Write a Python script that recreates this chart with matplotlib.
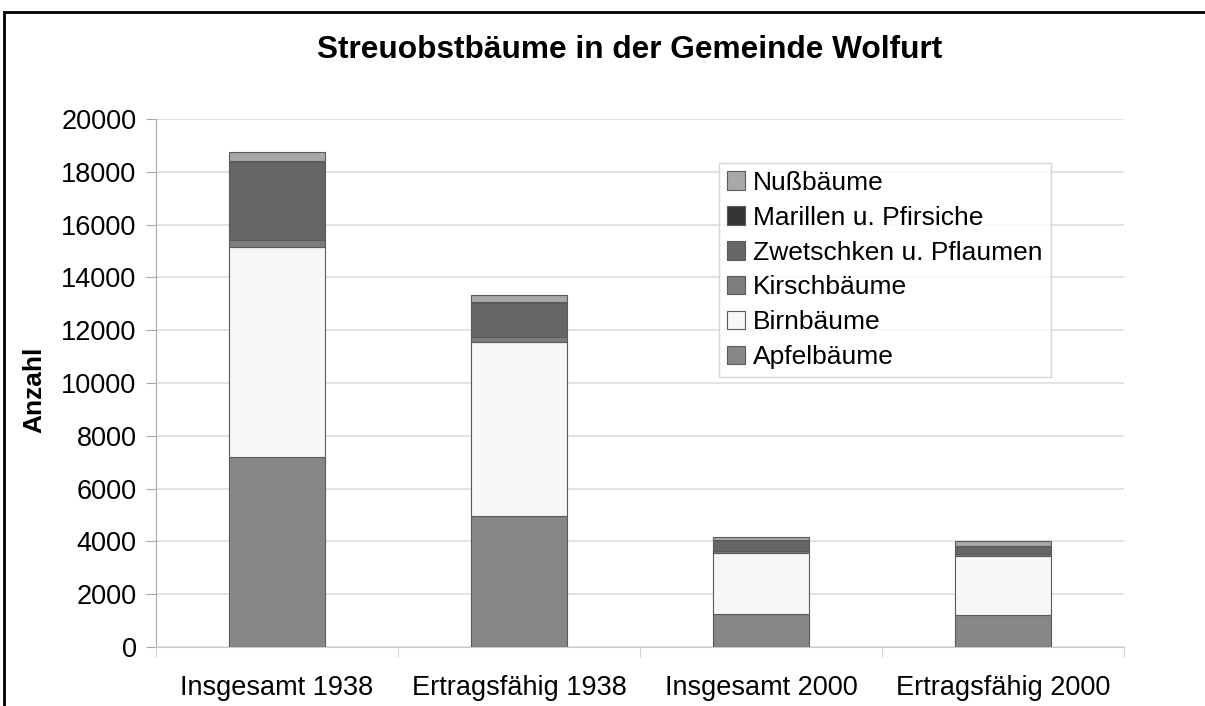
import numpy as np
import matplotlib.pyplot as plt
from matplotlib.patches import Rectangle

plt.rcParams['font.family'] = ['Liberation Sans', 'DejaVu Sans']

## Kategorien und Werte
categories = ['Insgesamt 1938', 'Ertragsfähig 1938', 'Insgesamt 2000', 'Ertragsfähig 2000']
apfel = [7200, 4950, 1250, 1200]
birn = [7950, 6600, 2310, 2250]
kirsch = [270, 200, 80, 70]
zwetschken = [2950, 1290, 400, 310]
marillen = [30, 20, 10, 10]
nuss = [340, 260, 120, 180]

series = [
    ('Apfelbäume', apfel, '#878787'),
    ('Birnbäume', birn, '#f7f7f7'),
    ('Kirschbäume', kirsch, '#7d7d7d'),
    ('Zwetschken u. Pflaumen', zwetschken, '#666666'),
    ('Marillen u. Pfirsiche', marillen, '#333333'),
    ('Nußbäume', nuss, '#a8a8a8'),
]

fig = plt.figure(figsize=(12.05, 7.06), dpi=100)
ax = fig.add_axes([156/1205, 1-647/706, 968/1205, 528/706])

x = np.arange(len(categories))
bottom = np.zeros(len(categories))
for name, vals, col in series:
    ax.bar(x, vals, bottom=bottom, width=0.4, color=col, edgecolor='#5a5a5a',
           linewidth=0.8, label=name, zorder=3)
    bottom += np.array(vals)

ax.set_xlim(-0.5, len(categories) - 0.5)
ax.set_ylim(0, 20000)
ax.set_yticks(np.arange(0, 20001, 2000))
ax.set_yticklabels([str(v) for v in range(0, 20001, 2000)], fontsize=19.5)
ax.set_xticks(x)
ax.set_xticklabels(categories, fontsize=19.5)
ax.tick_params(axis='x', length=0, pad=20)
ax.tick_params(axis='y', length=7, color='#aaaaaa', pad=7)
ax.set_xticks(np.arange(-0.5, len(categories) + 0.5, 1), minor=True)
ax.tick_params(axis='x', which='minor', length=7, color='#cccccc')
ax.grid(axis='y', color='#dedede', linewidth=1.2, zorder=0)
for s in ['top', 'right']:
    ax.spines[s].set_visible(False)
ax.spines['left'].set_color('#aaaaaa')
ax.spines['bottom'].set_color('#cccccc')

ax.set_ylabel('Anzahl', fontsize=19, fontweight='bold')
ax.yaxis.set_label_coords(46/1205, 1-390/706, transform=fig.transFigure)
fig.text(630/1205, 1-50/706, 'Streuobstbäume in der Gemeinde Wolfurt',
         ha='center', va='center', fontsize=22.8, fontweight='bold')

handles, labels = ax.get_legend_handles_labels()
leg = ax.legend(handles[::-1], labels[::-1], loc='upper left',
                bbox_to_anchor=(719/1205, 1-163/706), bbox_transform=fig.transFigure,
                fontsize=19, frameon=True, fancybox=False, edgecolor='#cccccc',
                handlelength=0.7, handleheight=0.7, handletextpad=0.3,
                labelspacing=0.41, borderpad=0.3, borderaxespad=0)
leg.get_frame().set_linewidth(1)

## Rahmen um die Grafik
fig.patches.append(Rectangle((4/1205, -0.05), 1.2, 1-12/706 + 0.05,
                             transform=fig.transFigure, fill=False,
                             edgecolor='black', linewidth=2))

fig.savefig('out.png', dpi=100)
